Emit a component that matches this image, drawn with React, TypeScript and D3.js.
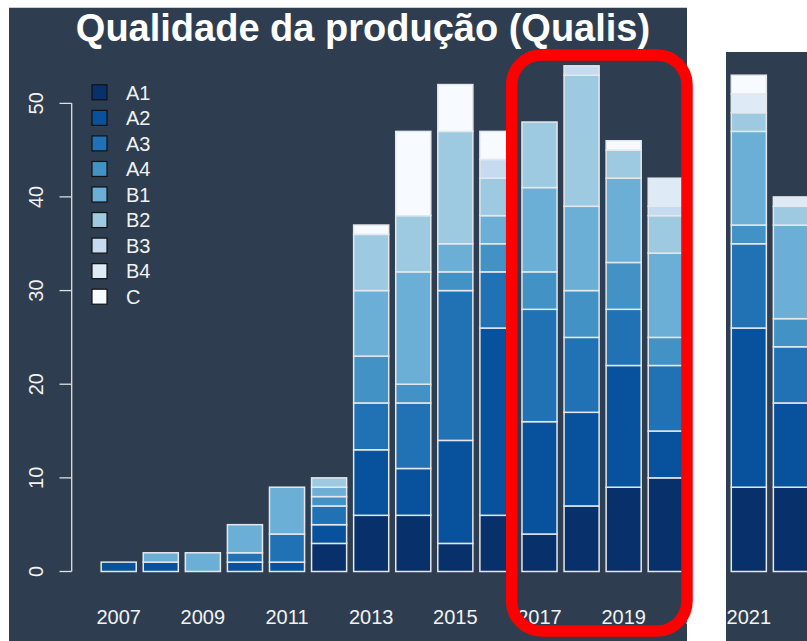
import React from "react";
import * as d3 from "d3";

const years = ["2007","2008","2009","2010","2011","2012","2013","2014","2015","2016","2017","2018","2019","2020","2021","2022"];
const categories = ["A1","A2","A3","A4","B1","B2","B3","B4","C"];
const colors = ["#08306B","#08519C","#2171B5","#4292C6","#6BAED6","#9ECAE1","#C6DBEF","#DEEBF7","#F7FBFF"];

const A1 = [0,0,0,0,0,3,6,6,3,6,4,7,9,10,9,9];
const A2 = [1,1,0,1,1,2,7,5,11,20,12,10,13,5,17,9];
const A3 = [0,0,0,1,3,2,5,7,16,6,12,8,6,7,9,6];
const A4 = [0,0,0,0,0,1,5,2,2,3,4,5,5,3,2,3];
const B1 = [0,1,2,3,5,1,7,12,3,3,9,9,9,9,10,10];
const B2 = [0,0,0,0,0,1,6,6,12,4,7,14,3,4,2,2];
const B3 = [0,0,0,0,0,0,0,0,0,2,0,1,0,1,0,0];
const B4 = [0,0,0,0,0,0,0,0,0,0,0,0,0,3,2,1];
const C  = [0,0,0,0,0,0,1,9,5,3,0,0,1,0,2,0];
const yTicks = [0,10,20,30,40,50];
const title = "Qualidade da produção (Qualis)";

const seriesValues: Record<string, number[]> = { A1, A2, A3, A4, B1, B2, B3, B4, C };
const rows = years.map((y, i) => {
  const r: any = { year: y };
  categories.forEach((c) => (r[c] = seriesValues[c][i]));
  return r;
});

const BG = "#2E3E50";
const FONT = "'Liberation Sans', Arial, Helvetica, sans-serif";
const TXT = "#F2F2F2";

const step = 42.08;
const r0 = 97.66;
const x = d3.scaleBand<string>().domain(years).range([r0, r0 + step * years.length]).paddingInner(0.1667).paddingOuter(0.0833);
const y = d3.scaleLinear().domain([0, 50]).range([571.5, 103.3]);
const stacked = d3.stack<any>().keys(categories)(rows);

function Chart({ showAxis }: { showAxis: boolean }) {
  return (
    <g>
      {stacked.map((s, si) => (
        <g key={s.key}>
          {s.map((d, i) =>
            d[1] - d[0] > 0 ? (
              <rect
                key={i}
                x={x(years[i])!}
                width={x.bandwidth()}
                y={y(d[1])}
                height={y(d[0]) - y(d[1])}
                fill={colors[si]}
                stroke="#E4E8EC"
                strokeWidth={1.5}
              />
            ) : null
          )}
        </g>
      ))}
      {years.map((yr, i) =>
        i % 2 === 0 ? (
          <text key={yr} x={x(yr)! + x.bandwidth() / 2} y={624} textAnchor="middle" fontSize={20} fill={TXT} fontFamily={FONT}>
            {yr}
          </text>
        ) : null
      )}
      {showAxis && (
        <g>
          <line x1={71.7} x2={71.7} y1={y(0)} y2={y(50)} stroke="#E0E0E0" strokeWidth={1.3} />
          {yTicks.map((t) => (
            <g key={t}>
              <line x1={59.5} x2={71.7} y1={y(t)} y2={y(t)} stroke="#E0E0E0" strokeWidth={1.3} />
              <text transform={`translate(43,${y(t)}) rotate(-90)`} textAnchor="middle" fontSize={20} fill={TXT} fontFamily={FONT}>
                {t}
              </text>
            </g>
          ))}
          {categories.map((c, i) => (
            <g key={c}>
              <rect x={92} y={92.3 + i * 25.55 - 7.5} width={15} height={15} fill={colors[i]} stroke="#111" strokeWidth={1.2} />
              <text x={126} y={92.3 + i * 25.55 + 7.2} fontSize={20} fill={TXT} fontFamily={FONT}>
                {c}
              </text>
            </g>
          ))}
          <text x={363} y={40.5} textAnchor="middle" fontSize={38} fontWeight="bold" fill="#FFFFFF" fontFamily={FONT}>
            {title}
          </text>
        </g>
      )}
    </g>
  );
}

export default function App() {
  return (
    <svg width={807} height={641} style={{ position: "absolute", left: 0, top: 0, background: "#FFFFFF" }}>
      <defs>
        <clipPath id="mainClip">
          <rect x={9} y={7.5} width={678} height={634} />
        </clipPath>
        <clipPath id="sideClip">
          <rect x={726} y={52} width={81} height={589} />
        </clipPath>
      </defs>
      <rect x={0} y={0} width={807} height={641} fill="#FFFFFF" />
      <g clipPath="url(#mainClip)">
        <rect x={9} y={7.5} width={678} height={634} fill={BG} />
        <Chart showAxis={true} />
      </g>
      <g clipPath="url(#sideClip)">
        <rect x={726} y={52} width={81} height={589} fill={BG} />
        <g transform="translate(41,0)">
          <Chart showAxis={false} />
        </g>
      </g>
      <rect x={511.7} y={55} width={175.3} height={576} rx={30} ry={30} fill="none" stroke="#FF0000" strokeWidth={11.5} />
    </svg>
  );
}
